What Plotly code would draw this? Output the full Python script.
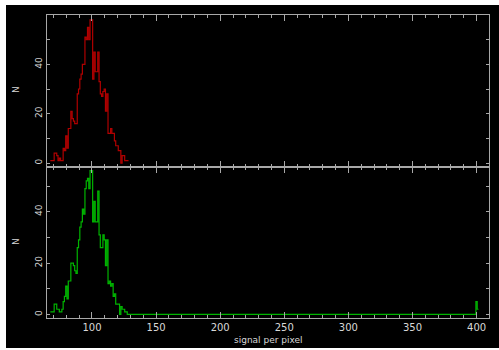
import plotly.graph_objects as go

# Histogram bins (left edges of 1-unit bins) and counts
bin_edges = [67.5 + i for i in range(62)]  # 67.5 ... 128.5
counts_top = [1, 1, 1, 4, 4, 3, 1, 2, 1, 1,
              6, 5, 11, 6, 14, 14, 21, 18, 17, 16,
              16, 28, 30, 34, 36, 40, 40, 51, 50, 55,
              50, 58, 58, 34, 45, 37, 37, 45, 33, 28,
              27, 29, 30, 21, 28, 12, 12, 14, 12, 12,
              9, 7, 7, 5, 5, 0, 3, 3, 1, 1, 1]
counts_bottom = [1, 1, 1, 4, 4, 2, 2, 1, 1, 2,
                 5, 7, 11, 6, 13, 13, 20, 20, 19, 17,
                 16, 26, 29, 34, 36, 41, 39, 49, 52, 53,
                 49, 56, 56, 36, 44, 36, 36, 48, 31, 26,
                 26, 31, 29, 19, 29, 12, 13, 11, 12, 7,
                 8, 4, 4, 4, 0, 3, 2, 2, 1, 1, 0]
# outlier bins far out in the bottom histogram
tail_edges = [398.5, 399.5, 400.5, 401.5]
tail_counts = [0, 5, 2]

x_ticks = [100, 150, 200, 250, 300, 350, 400]
y_ticks = [0, 20, 40]

RED = "#b00000"
GREEN = "#00b400"
FRAME = "#a8a8a8"
TXT = "#d8d8d8"
FONT = "DejaVu Sans"

fig = go.Figure()

# top panel (red)
fig.add_trace(go.Scatter(
    x=bin_edges, y=counts_top + [counts_top[-1]],
    mode="lines", line=dict(color=RED, width=1.2, shape="hv"),
    xaxis="x", yaxis="y", showlegend=False, hoverinfo="skip"))

# bottom panel (green)
xb = bin_edges + tail_edges
yb = counts_bottom + [counts_bottom[-1]] + tail_counts + [tail_counts[-1]]
fig.add_trace(go.Scatter(
    x=xb, y=yb,
    mode="lines", line=dict(color=GREEN, width=1.2, shape="hv"),
    xaxis="x2", yaxis="y2", showlegend=False, hoverinfo="skip"))

L, R, T, B = 47, 10, 15, 32
W, H = 499, 350
pw, ph = W - L - R, H - T - B

def px_x(p):
    return (p - L) / pw

def px_y(p):
    return (H - B - p) / ph

xcommon = dict(
    range=[64.9, 409.7], tickvals=x_ticks, ticks="inside", ticklen=6,
    tickcolor=FRAME, tickwidth=1, showline=True, linecolor=FRAME, linewidth=1,
    mirror="ticks", showgrid=False, zeroline=False,
    minor=dict(dtick=10, tick0=0, ticks="inside", ticklen=3, tickcolor=FRAME),
    tickfont=dict(family=FONT, size=10, color=TXT),
)
ycommon = dict(
    tickvals=y_ticks, ticks="inside", ticklen=3, tickcolor=FRAME, tickwidth=1,
    showline=True, linecolor=FRAME, linewidth=1, mirror="ticks",
    showgrid=False, zeroline=False, tickangle=-90,
    minor=dict(dtick=10, tick0=0, ticks="inside", ticklen=3, tickcolor=FRAME),
    tickfont=dict(family=FONT, size=9, color=TXT),
)

fig.update_layout(
    width=W, height=H,
    margin=dict(l=L, r=R, t=T, b=B, pad=0),
    paper_bgcolor="white", plot_bgcolor="black",
    xaxis=dict(domain=[0, 1], anchor="y", showticklabels=False, **xcommon),
    yaxis=dict(domain=[0.5, 1], anchor="x", range=[-1.4, 60], **ycommon),
    xaxis2=dict(domain=[0, 1], anchor="y2", matches=None, **xcommon),
    yaxis2=dict(domain=[0, 0.5], anchor="x2", range=[-1.4, 57.6], **ycommon),
    shapes=[dict(type="rect", xref="paper", yref="paper",
                 x0=px_x(6), x1=px_x(500), y0=px_y(348), y1=px_y(5),
                 fillcolor="black", line=dict(width=0), layer="below")],
    annotations=[
        dict(text="N", xref="paper", yref="paper", x=px_x(16), y=px_y(90),
             showarrow=False, textangle=-90, xanchor="center", yanchor="middle",
             font=dict(family=FONT, size=9, color=TXT)),
        dict(text="N", xref="paper", yref="paper", x=px_x(16), y=px_y(242),
             showarrow=False, textangle=-90, xanchor="center", yanchor="middle",
             font=dict(family=FONT, size=9, color=TXT)),
        dict(text="signal per pixel", xref="paper", yref="paper",
             x=px_x(268), y=px_y(340), showarrow=False,
             xanchor="center", yanchor="middle",
             font=dict(family=FONT, size=9, color=TXT)),
    ],
)

fig.write_html("out.html")
